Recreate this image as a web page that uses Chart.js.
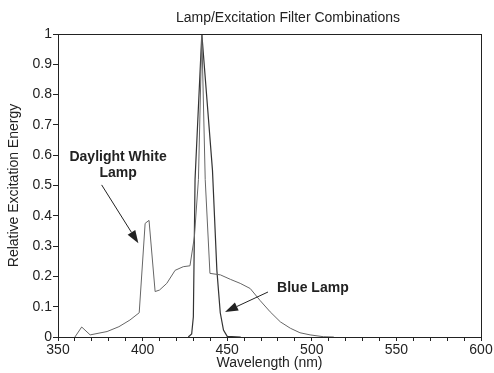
<!DOCTYPE html>
<html><head><meta charset="utf-8">
<script src="https://cdn.jsdelivr.net/npm/chart.js@4"></script>
<style>html,body{margin:0;padding:0;background:#fff}#wrap{width:494px;height:373px}</style>
</head><body><div id="wrap"><canvas id="c" width="494" height="373"></canvas></div>
<script>
const chartTitle = "Lamp/Excitation Filter Combinations";
const xTitle = "Wavelength (nm)";
const yTitle = "Relative Excitation Energy";
const daylightWavelength = [360,364,369,379,386,392.5,398,401.5,403.8,407.4,410,414.3,419.2,424,428,430.6,433,435,437,439.8,446,452,457.7,463.6,469.5,475.4,481.4,487.3,493,499,506.8,513];
const daylightEnergy = [0,0.033,0.007,0.018,0.034,0.056,0.08,0.375,0.385,0.15,0.155,0.177,0.22,0.232,0.235,0.33,0.52,1,0.52,0.21,0.205,0.19,0.177,0.16,0.12,0.083,0.05,0.029,0.014,0.007,0.001,0];
const blueWavelength = [427,429,430,431,435,441.3,443.9,445.9,447.8,450,458];
const blueEnergy = [0,0.01,0.067,0.52,1,0.55,0.22,0.08,0.023,0.002,0];
const labelDaylight = ["Daylight White","Lamp"];
const labelBlue = "Blue Lamp";

const ink = '#222';
const font = "'Liberation Sans', Arial, sans-serif";

const annot = {
  id:'annot',
  afterDraw(chart){
    const {ctx, chartArea:a, scales:{x,y}} = chart;
    ctx.save();
    ctx.strokeStyle = ink; ctx.lineWidth = 1;
    ctx.strokeRect(a.left+0.5, a.top+0.5, a.right-a.left, a.bottom-a.top);
    ctx.fillStyle = ink;
    ctx.font = "14px " + font;
    ctx.textAlign = 'center'; ctx.textBaseline = 'middle';
    ctx.fillText(chartTitle, 288, 18);
    ctx.font = "bold 14px " + font;
    ctx.fillText(labelDaylight[0], x.getPixelForValue(385.5), y.getPixelForValue(0.594));
    ctx.fillText(labelDaylight[1], x.getPixelForValue(385.5), y.getPixelForValue(0.541));
    ctx.textAlign = 'left';
    ctx.fillText(labelBlue, x.getPixelForValue(479.5), y.getPixelForValue(0.162));
    function arrow(x1,y1,x2,y2){
      const px1=x.getPixelForValue(x1), py1=y.getPixelForValue(y1), px2=x.getPixelForValue(x2), py2=y.getPixelForValue(y2);
      const ang=Math.atan2(py2-py1,px2-px1), L=13, W=4.5;
      const bx=px2-L*Math.cos(ang), by=py2-L*Math.sin(ang);
      ctx.beginPath(); ctx.moveTo(px1,py1); ctx.lineTo(bx,by); ctx.stroke();
      ctx.beginPath(); ctx.moveTo(px2,py2);
      ctx.lineTo(bx+W*Math.sin(ang), by-W*Math.cos(ang));
      ctx.lineTo(bx-W*Math.sin(ang), by+W*Math.cos(ang));
      ctx.closePath(); ctx.fill();
    }
    arrow(375.8,0.502,397.5,0.309);
    arrow(474.1,0.1485,448.7,0.0825);
    ctx.restore();
  }
};

new Chart(document.getElementById('c'), {
  type:'scatter',
  data:{datasets:[
    {label:'Daylight White Lamp', data: daylightWavelength.map((w,i)=>({x:w,y:daylightEnergy[i]})), showLine:true, borderColor:'#666', borderWidth:1, pointRadius:0, tension:0},
    {label:'Blue Lamp', data: blueWavelength.map((w,i)=>({x:w,y:blueEnergy[i]})), showLine:true, borderColor:'#333', borderWidth:1.2, pointRadius:0, tension:0}
  ]},
  options:{
    responsive:false, animation:false, devicePixelRatio:1,
    layout:{padding:{left:0,right:13,top:34,bottom:0}},
    plugins:{
      legend:{display:false}, tooltip:{enabled:false}, title:{display:false}
    },
    scales:{
      x:{type:'linear', min:350, max:600,
        afterFit(s){s.height=36;},
        border:{display:true,color:ink,width:1},
        grid:{drawOnChartArea:false, drawTicks:true, tickLength:4, color:ink},
        ticks:{stepSize:10, autoSkip:false, maxRotation:0, padding:0.6, color:ink, font:{family:font,size:14},
          callback:v=> (v%50===0? String(v):'')},
        title:{display:true, text:xTitle, color:ink, font:{family:font,size:14}, padding:{top:0,bottom:1.6}}
      },
      y:{type:'linear', min:0, max:1,
        afterFit(s){s.width=58;},
        border:{display:true,color:ink,width:1},
        grid:{drawOnChartArea:false, drawTicks:true, tickLength:5, color:ink},
        ticks:{stepSize:0.1, padding:1, color:ink, font:{family:font,size:14},
          callback:v=> String(Math.round(v*10)/10)},
        title:{display:true, text:yTitle, color:ink, font:{family:font,size:14}, padding:{top:5.6,bottom:0}}
      }
    }
  },
  plugins:[annot]
});
</script></body></html>
